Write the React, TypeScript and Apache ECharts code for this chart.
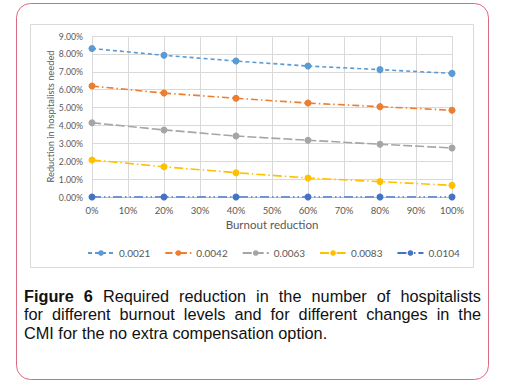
import React, { useEffect, useRef } from "react";
import * as echarts from "echarts";

const xValues = [0, 20, 40, 60, 80, 100];
const seriesNames = ["0.0021", "0.0042", "0.0063", "0.0083", "0.0104"];
const s0021 = [8.3, 7.92, 7.6, 7.32, 7.12, 6.91];
const s0042 = [6.2, 5.81, 5.52, 5.25, 5.05, 4.85];
const s0063 = [4.15, 3.75, 3.41, 3.17, 2.95, 2.74];
const s0083 = [2.07, 1.69, 1.36, 1.06, 0.86, 0.65];
const s0104 = [0, 0, 0, 0, 0, 0];
const seriesValues = [s0021, s0042, s0063, s0083, s0104];
const seriesColors = ["#5B9BD5", "#ED7D31", "#A5A5A5", "#FFC000", "#4472C4"];
const seriesDash: number[][] = [
  [4, 3],
  [7, 3, 1.5, 3],
  [9, 3],
  [9, 3, 1.5, 3],
  [9, 3, 1.5, 3, 1.5, 3],
];
const yAxisTitle = "Reduction in hospitalists needed";
const xAxisTitle = "Burnout reduction";
const captionBold = "Figure 6";
const captionLines = [
  "Figure 6 Required reduction in the number of hospitalists",
  "for different burnout levels and for different changes in the",
  "CMI for the no extra compensation option.",
];

const FONT = "Lato";
const CAP_FONT = "'Liberation Sans'";
const CAP_SIZE = 16.3;

function buildCaption(): any[] {
  const canvas = document.createElement("canvas");
  const ctx = canvas.getContext("2d")!;
  const left = 24;
  const right = 481;
  const centers = [295.5, 314, 332.5];
  const els: any[] = [];
  const boldWords = captionBold.split(" ");
  captionLines.forEach((line, li) => {
    const words = line.split(" ");
    const isBold = (wi: number) => li === 0 && wi < boldWords.length;
    const fontOf = (wi: number) => `${isBold(wi) ? "bold " : ""}${CAP_SIZE}px ${CAP_FONT}`;
    const widths = words.map((w, wi) => {
      ctx.font = fontOf(wi);
      return ctx.measureText(w).width;
    });
    ctx.font = `${CAP_SIZE}px ${CAP_FONT}`;
    const space = ctx.measureText(" ").width;
    const total = widths.reduce((a, b) => a + b, 0);
    const last = li === captionLines.length - 1;
    const gap = last ? space : (right - left - total) / (words.length - 1);
    let x = left;
    words.forEach((w, wi) => {
      els.push({
        type: "text",
        x,
        y: centers[li],
        style: {
          text: w,
          fill: "#111111",
          font: fontOf(wi),
          lineHeight: 16,
          verticalAlign: "middle",
          align: "left",
        },
      });
      x += widths[wi] + gap;
    });
  });
  return els;
}

export default function App() {
  const ref = useRef<HTMLDivElement>(null);
  useEffect(() => {
    if (!ref.current) return;
    const chart = echarts.init(ref.current, null, { renderer: "svg" });
    const axisText = { color: "#595959", fontFamily: FONT, fontSize: 8.7 };
    chart.setOption({
      animation: false,
      backgroundColor: "#ffffff",
      textStyle: { fontFamily: FONT },
      grid: { left: 92, right: 53, top: 36, bottom: 190 },
      xAxis: {
        type: "value",
        min: 0,
        max: 100,
        interval: 10,
        name: xAxisTitle,
        nameLocation: "middle",
        nameGap: 21,
        nameMoveOverlap: false,
        nameTextStyle: { ...axisText, fontSize: 11.5 },
        axisLabel: { ...axisText, fontSize: 9.5, margin: 8, formatter: (v: number) => `${v}%` },
        axisLine: { show: true, lineStyle: { color: "#bfbfbf", width: 1 } },
        axisTick: { show: false },
        splitLine: { show: true, lineStyle: { color: "#d9d9d9", width: 1 } },
      },
      yAxis: {
        type: "value",
        min: 0,
        max: 9,
        interval: 1,
        name: yAxisTitle,
        nameLocation: "middle",
        nameGap: 37,
        nameMoveOverlap: false,
        nameTextStyle: { ...axisText, fontSize: 9.3 },
        axisLabel: { ...axisText, margin: 9, formatter: (v: number) => `${v.toFixed(2)}%` },
        axisLine: { show: false },
        axisTick: { show: false },
        splitLine: { show: true, lineStyle: { color: "#d9d9d9", width: 1 } },
      },
      legend: {
        top: 243,
        left: 82,
        itemWidth: 26,
        itemHeight: 7,
        itemGap: 14,
        textStyle: { ...axisText, fontSize: 10 },
        data: seriesNames,
      },
      series: seriesNames.map((name, i) => ({
        name,
        type: "line",
        data: xValues.map((x, j) => [x, seriesValues[i][j]]),
        symbol: "circle",
        symbolSize: 7,
        color: seriesColors[i],
        itemStyle: { color: seriesColors[i] },
        lineStyle: { color: seriesColors[i], width: 1.6, type: seriesDash[i] },
        z: 10 - i,
      })),
      graphic: [
        {
          type: "rect",
          shape: { x: 16.5, y: 3.5, width: 472, height: 376, r: 14 },
          style: { fill: "none", stroke: "#d86a82", lineWidth: 1 },
          z: -1,
        },
        {
          type: "rect",
          shape: { x: 30.5, y: 24.5, width: 443, height: 243 },
          style: { fill: "none", stroke: "#d9d9d9", lineWidth: 1 },
          z: -1,
        },
        ...buildCaption(),
      ],
    });
    return () => chart.dispose();
  }, []);
  return (
    <div
      ref={ref}
      style={{ position: "absolute", left: 0, top: 0, width: 505, height: 387 }}
    />
  );
}
